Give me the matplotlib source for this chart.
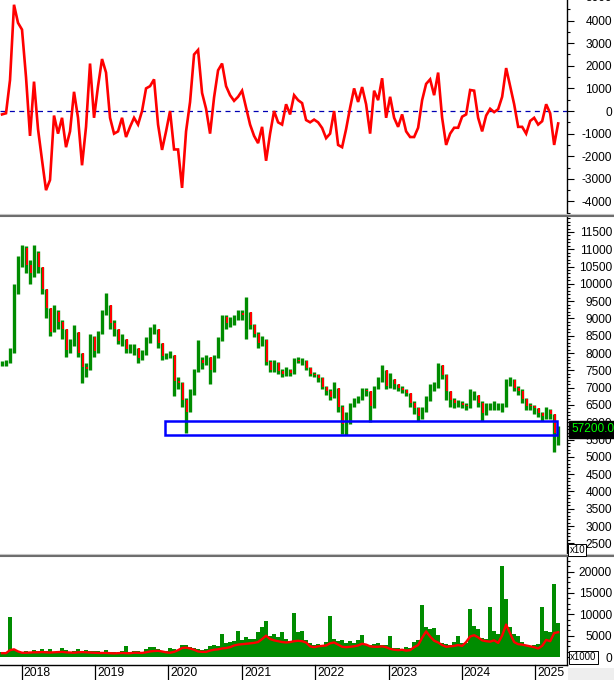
import numpy as np
import pandas as pd
import matplotlib
matplotlib.use('Agg')
import matplotlib.pyplot as plt
import matplotlib.dates as mdates
from matplotlib.lines import Line2D
from matplotlib.patches import Rectangle

plt.rcParams['font.family'] = ['Liberation Sans', 'DejaVu Sans']

# ---------------- data ----------------
osc = [-150, -100, 1370, 4700, 3900, 3600, 1500, -1100, 1300, -800,
       -2170, -3500, -3050, -200, -1000, -300, -1600, -900, 850, -300,
       -2400, -700, 2100, -300, 1100, 2300, 1700, -300, -1000, -900,
       -300, -1150, -700, -300, -600, 0, 1000, 1100, 1400, -600,
       -1720, -900, 0, -1700, -1700, -3400, -900, 400, 2500, 2700,
       800, 100, -1000, 600, 1800, 2100, 1100, 700, 450, 630,
       900, 150, -600, -1100, -1420, -700, -2200, -1000, 0, -500,
       -600, 300, -150, 700, 480, 350, -400, -500, -380, -500,
       -750, -1200, -1000, 0, -1500, -1600, -800, 150, 1000, 400,
       1060, 300, -1000, 900, 480, 1450, -300, 630, -300, -700,
       -150, -900, -1150, -1150, -740, 480, 1200, 1400, 700, 1700,
       -300, -1500, -1000, -740, -740, -250, -150, 930, 900, -300,
       -900, -200, 100, -50, 80, 630, 1900, 1100, 300, -700,
       -700, -1000, -440, -300, -600, -450, 300, -100, -1500, -550]

close = [7700, 7720, 8000, 9800, 10650, 11050, 10550, 10300, 10900, 10500,
         9850, 9300, 8600, 9200, 8900, 8700, 8100, 8250, 8600, 8000,
         7600, 7550, 8450, 8050, 8600, 9150, 9400, 8860, 8700, 8350,
         8400, 8120, 8140, 8150, 7850, 8000, 8350, 8650, 8700, 8280,
         7910, 7920, 7950, 7200, 7140, 6640, 6300, 6900, 7500, 7800,
         7710, 7880, 7500, 7880, 8380, 9050, 8860, 8900, 8950, 9150,
         9100, 9200, 8800, 8550, 8280, 8380, 7750, 7520, 7700, 7480,
         7400, 7500, 7420, 7790, 7780, 7780, 7560, 7400, 7370, 7270,
         7030, 6900, 6740, 7000, 6450, 5950, 6000, 6500, 6580, 6650,
         6940, 6900, 6460, 7000, 7220, 7500, 7050, 7250, 7100, 6990,
         6920, 6850, 6560, 6400, 6170, 6350, 6650, 7030, 7050, 7660,
         7370, 6900, 6650, 6550, 6550, 6510, 6460, 6700, 6800, 6560,
         6270, 6400, 6460, 6460, 6460, 6460, 7150, 7220, 7000, 6900,
         6680, 6480, 6460, 6400, 6260, 6180, 6360, 6250, 5700, 5720]

high = [7780, 7800, 8150, 10000, 10800, 11130, 11100, 10700, 11130, 10950,
        10500, 9850, 9300, 9400, 9250, 8950, 8700, 8400, 8800, 8600,
        8000, 7700, 8550, 8500, 8650, 9250, 9730, 9400, 8950, 8700,
        8550, 8400, 8250, 8250, 8150, 8100, 8450, 8750, 8850, 8700,
        8300, 8000, 8050, 7950, 7300, 7150, 6700, 6950, 7550, 8380,
        7900, 7950, 7900, 7950, 8450, 9100, 9100, 9050, 9100, 9250,
        9250, 9630, 9200, 8850, 8600, 8500, 8400, 7800, 7800, 7750,
        7550, 7600, 7550, 7850, 7900, 7850, 7800, 7600, 7450, 7400,
        7300, 7050, 6950, 7150, 7000, 6500, 6300, 6550, 6700, 6750,
        7000, 7000, 6900, 7050, 7300, 7660, 7500, 7420, 7250, 7100,
        7050, 6950, 6850, 6600, 6450, 6450, 6750, 7100, 7150, 7700,
        7660, 7400, 6900, 6700, 6650, 6600, 6550, 6960, 6900, 6800,
        6600, 6550, 6550, 6600, 6550, 6550, 7250, 7300, 7250, 7050,
        6950, 6700, 6550, 6500, 6400, 6300, 6450, 6380, 6250, 5900]

low = [7620, 7640, 7700, 8000, 9700, 10500, 10300, 10000, 10200, 10300,
       9700, 9000, 8500, 8600, 8700, 8400, 7900, 8000, 8200, 7900,
       7135, 7300, 7500, 7900, 8000, 8550, 9100, 8700, 8500, 8250,
       8200, 8000, 8000, 7950, 7700, 7800, 7950, 8300, 8550, 8150,
       7800, 7820, 7850, 6750, 6950, 6450, 5700, 6300, 6800, 7450,
       7550, 7650, 7100, 7450, 7850, 8350, 8700, 8750, 8800, 8950,
       8950, 8400, 8700, 8450, 8150, 8200, 7650, 7450, 7450, 7400,
       7300, 7350, 7350, 7400, 7700, 7650, 7500, 7350, 7300, 7150,
       6950, 6800, 6650, 6700, 6300, 5650, 5630, 5950, 6450, 6550,
       6650, 6750, 6020, 6400, 6950, 7150, 6950, 7000, 6950, 6900,
       6850, 6750, 6450, 6250, 6050, 6080, 6300, 6600, 6900, 7000,
       7250, 6650, 6450, 6400, 6450, 6400, 6350, 6400, 6650, 6450,
       6050, 6200, 6350, 6350, 6350, 6300, 6450, 7050, 6900, 6800,
       6550, 6350, 6350, 6250, 6150, 6050, 6100, 6100, 5150, 5350]

volume = [1200, 1100, 9400, 1900, 1300, 1100, 1500, 1200, 1600, 1400,
          1800, 1300, 1900, 1200, 1400, 2000, 1600, 1200, 1500, 1800,
          1200, 1700, 1300, 1400, 1500, 1200, 1700, 1100, 1200, 1000,
          1300, 2600, 1200, 1400, 1300, 1200, 1800, 2300, 2400, 1900,
          1400, 1300, 2200, 1900, 1700, 2800, 2700, 2300, 2000, 1800,
          1700, 1800, 2500, 2700, 2600, 5300, 3300, 3400, 3700, 6200,
          4000, 4600, 4300, 4100, 5800, 7000, 8400, 4800, 5300, 4700,
          5800, 4200, 3800, 10200, 5800, 6200, 4000, 3200, 2700, 3100,
          2900, 3400, 9600, 4300, 3700, 3900, 3300, 3800, 3200, 4000,
          5200, 3100, 2800, 3000, 3300, 2900, 2700, 4900, 2200, 2000,
          1800, 2300, 2100, 3400, 4000, 12100, 7000, 6500, 6800, 5200,
          3300, 3000, 2800, 3500, 4800, 3200, 3300, 11300, 7200, 6500,
          4500, 4300, 11800, 6000, 5500, 21300, 13500, 7000, 5300, 5000,
          3500, 2800, 2500, 2700, 3000, 11600, 6200, 5800, 17000, 8000]

vol_ma = [900, 900, 1600, 1800, 1300, 1000, 1000, 1050, 1100, 1100,
          1150, 1100, 1050, 1100, 1150, 1200, 1100, 1050, 1000, 1100,
          1150, 1100, 1050, 1000, 950, 950, 950, 900, 850, 900,
          950, 900, 900, 1000, 1000, 950, 1100, 1300, 1400, 1450,
          1300, 1100, 1000, 1200, 1600, 2100, 2200, 2000, 1700, 1300,
          1200, 1200, 1500, 1700, 1800, 2000, 2100, 2300, 2700, 2900,
          3000, 3100, 3200, 3300, 3500, 4200, 5000, 4200, 3900, 3700,
          3500, 3400, 3500, 3700, 3800, 3700, 3400, 2500, 2300, 2500,
          2600, 2700, 3200, 3400, 2900, 2400, 2300, 2400, 2500, 2700,
          3100, 2900, 2500, 2400, 2400, 2500, 2300, 1900, 1700, 1600,
          1700, 1500, 1600, 2300, 2800, 4500, 6000, 4800, 3800, 3400,
          2800, 2400, 2500, 2600, 2800, 2600, 3500, 4800, 5100, 4600,
          3900, 3700, 3600, 3900, 3300, 5000, 7600, 5500, 3500, 3000,
          2900, 2700, 2500, 2300, 2000, 2600, 4000, 3700, 5600, 5800]

years = ['2018', '2019', '2020', '2021', '2022', '2023', '2024', '2025']
last_price_label = '57200.00'
zone_low, zone_high = 5633, 6038
zone_start, zone_end = '2019-12-13', '2025-04-17'

# ---------------- figure ----------------
W, H = 614, 680
fig = plt.figure(figsize=(W / 100, H / 100), dpi=100)
fig.patch.set_facecolor('white')

XR = 567  # right edge of plotting area (px)


def rect(top, bottom):
    return [0, 1 - bottom / H, XR / W, (bottom - top) / H]


ax1 = fig.add_axes(rect(0, 213))
ax2 = fig.add_axes(rect(217, 553), sharex=ax1)
ax3 = fig.add_axes(rect(557, 665), sharex=ax1)

dates = pd.date_range('2017-09-24', '2025-04-25', periods=len(close))
x = mdates.date2num(dates)
step = x[1] - x[0]

GREEN = '#008c00'
RED = '#ff0000'

# oscillator
ax1.plot(x, osc, color=RED, lw=1.9, zorder=3, solid_joinstyle='miter')
ax1.axhline(0, color='#0000b4', lw=0.9, ls=(0, (4, 3.5)), zorder=2)
ax1.set_ylim(-4510, 4910)

# candles: green high-low ranges, bodies coloured by direction
c = np.array(close, float)
o = np.r_[c[0], c[:-1]]
hi = np.array(high, float)
lo = np.array(low, float)
cols = np.where(c >= o, GREEN, RED)
ax2.vlines(x, lo, hi, colors=GREEN, lw=2.4, zorder=3)
body_b = np.minimum(o, c)
body_h = np.maximum(np.abs(c - o), 25)
ax2.bar(x + step * 0.25, body_h, bottom=body_b, width=step * 0.45, color=cols,
        linewidth=0, zorder=4)
zs = mdates.date2num(pd.Timestamp(zone_start))
ze = mdates.date2num(pd.Timestamp(zone_end))
ax2.add_patch(Rectangle((zs, zone_low), ze - zs, zone_high - zone_low, fill=False,
                        edgecolor='#0000ff', lw=1.8, zorder=5))
ax2.set_ylim(2220, 11933)

# volume
ax3.bar(x, volume, width=step * 1.02, color=GREEN, linewidth=0, zorder=2)
ax3.plot(x, vol_ma, color=RED, lw=1.7, zorder=3)
ax3.set_ylim(-1870, 23400)

ax1.set_xlim(mdates.date2num(pd.Timestamp('2017-09-14')),
             mdates.date2num(pd.Timestamp('2025-06-08')))

# right axes
specs = [
    (ax1, np.arange(-4000, 4001, 1000), np.arange(-4500, 4901, 500)),
    (ax2, np.arange(2500, 11501, 500), np.arange(2300, 11901, 100)),
    (ax3, np.arange(0, 20001, 5000), np.arange(0, 23001, 1250)),
]
for ax, majors, minors in specs:
    ax.set_facecolor('white')
    for s in ('left', 'top', 'bottom'):
        ax.spines[s].set_visible(False)
    ax.spines['right'].set_color('black')
    ax.spines['right'].set_linewidth(1.0)
    ax.yaxis.tick_right()
    ax.set_yticks(majors)
    ax.set_yticks(minors, minor=True)
    ax.set_yticklabels([str(int(v)) for v in majors], ha='right')
    ax.tick_params(axis='y', which='major', direction='out', length=5, width=0.8,
                   pad=27.3, labelsize=8.6, colors='black')
    ax.tick_params(axis='y', which='minor', direction='out', length=2.5, width=0.8)
    ax.tick_params(axis='x', which='both', bottom=False, labelbottom=False)

ax3.spines['bottom'].set_visible(True)
ax3.spines['bottom'].set_color('black')
ax3.spines['bottom'].set_linewidth(1.0)

# year ticks and labels
ydates = [pd.Timestamp(f'{y}-01-01') for y in years]
for yd, yl in zip(ydates, years):
    xd = mdates.date2num(yd)
    ax3.plot([xd, xd], [0, -15 / 108], color='black', lw=0.9,
             transform=ax3.get_xaxis_transform(), clip_on=False)
    ax3.annotate(yl, xy=(xd, 0), xycoords=('data', 'axes fraction'),
                 xytext=(2, -8), textcoords='offset pixels',
                 ha='left', va='center', fontsize=8.8, color='black')

# label-row grey area on the right
fig.add_artist(Rectangle((568 / W, 0), 1 - 568 / W, 12 / H, transform=fig.transFigure,
                         facecolor='#eeeeee', edgecolor='none', zorder=0))

# panel separators
for top in (213, 553):
    fig.add_artist(Line2D([0, 1], [1 - (top + 0.5) / H] * 2, transform=fig.transFigure,
                          color='#c8c8c8', lw=0.8))
    fig.add_artist(Line2D([0, 1], [1 - (top + 2.5) / H] * 2, transform=fig.transFigure,
                          color='#6e6e6e', lw=1.5))

# partially visible top label
fig.text(612 / W, 1 + 2 / H, '5000', ha='right', va='center', fontsize=8.6)

# last price label
fig.text(571 / W, 1 - 429.5 / H, last_price_label, ha='left', va='center', fontsize=8.6,
         color='#00ff00', zorder=10,
         bbox=dict(facecolor='black', edgecolor='black', pad=1.6))

# multiplier boxes
fig.text(569.5 / W, 1 - 550 / H, 'x10', ha='left', va='center', fontsize=7, zorder=10,
         bbox=dict(facecolor='white', edgecolor='black', lw=0.7, pad=1.0))
fig.text(570 / W, 1 - 657.5 / H, 'x1000', ha='left', va='center', fontsize=7, zorder=10,
         bbox=dict(facecolor='white', edgecolor='black', lw=0.7, pad=1.0))

fig.savefig('out.png', dpi=100)
